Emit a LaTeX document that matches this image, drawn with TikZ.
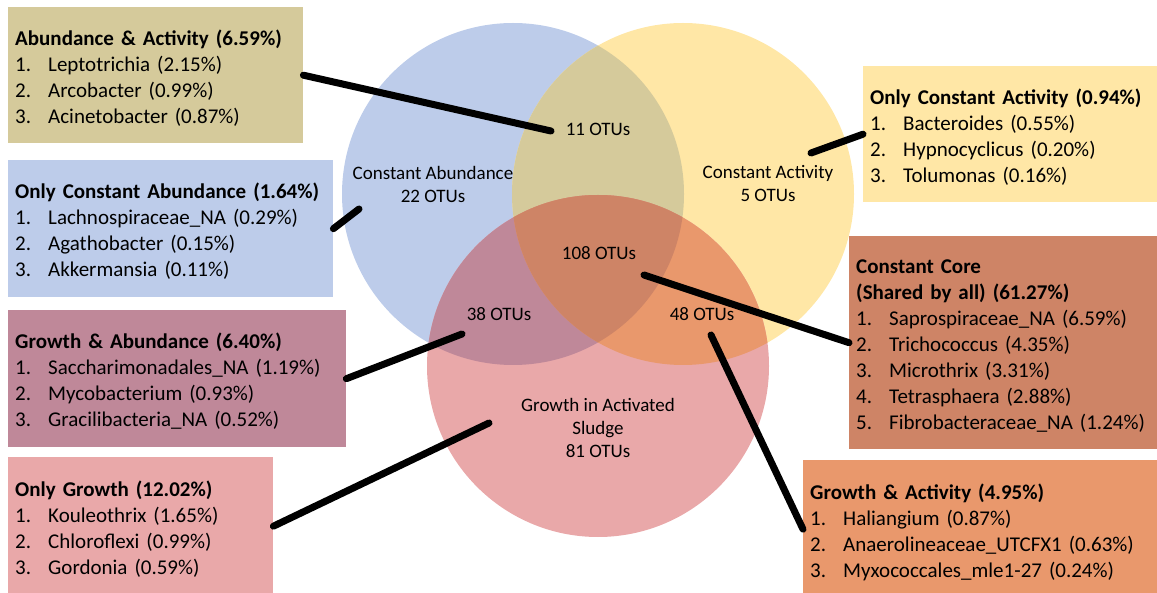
\documentclass[tikz,border=0pt]{standalone}
\usepackage{fontspec}
\setmainfont{Carlito}

\definecolor{cblue}{HTML}{BDCCEA}
\definecolor{cyellow}{HTML}{FFE7A6}
\definecolor{cred}{HTML}{E9A8A9}
\definecolor{cby}{HTML}{D5CA9B}
\definecolor{cbr}{HTML}{BF8899}
\definecolor{cyr}{HTML}{E9986C}
\definecolor{call}{HTML}{CE8466}

\newcommand{\itm}[2]{\makebox[33pt][l]{#1}#2}

\begin{document}
\begin{tikzpicture}[x=1pt,y=-1pt,
    box/.style={anchor=north west,inner xsep=7pt,inner ysep=0pt,align=left,font=\fontsize{21}{26}\selectfont,
      execute at begin node=\rule{0pt}{21pt}},
    venn/.style={align=center,font=\fontsize{19}{23}\selectfont},
    link/.style={line width=7pt,line cap=round}]

    \useasboundingbox (0,0) rectangle (1157,593);

    % the three sets
    \coordinate (cA) at (513,194);
    \coordinate (cC) at (683,194);
    \coordinate (cG) at (598,366);

    \fill[cblue] (cA) circle (171pt);
    \fill[cyellow] (cC) circle (171pt);
    \fill[cred] (cG) circle (171pt);

    \begin{scope}
      \clip (cA) circle (171pt);
      \fill[cby] (cC) circle (171pt);
    \end{scope}
    \begin{scope}
      \clip (cA) circle (171pt);
      \fill[cbr] (cG) circle (171pt);
    \end{scope}
    \begin{scope}
      \clip (cC) circle (171pt);
      \fill[cyr] (cG) circle (171pt);
    \end{scope}
    \begin{scope}
      \clip (cA) circle (171pt);
      \clip (cC) circle (171pt);
      \fill[call] (cG) circle (171pt);
    \end{scope}

    \node[venn] (nabund) at (433,184) {Constant Abundance\\22 OTUs};
    \node[venn] (nact) at (768,184) {Constant Activity\\5 OTUs};
    \node[venn] (ngrowth) at (598,428) {Growth in Activated\\Sludge\\81 OTUs};
    \node[venn] (n11) at (598,129) {11 OTUs};
    \node[venn] (n108) at (599,253) {108 OTUs};
    \node[venn] (n38) at (499,314) {38 OTUs};
    \node[venn] (n48) at (702,314) {48 OTUs};

    % left boxes
    \node[box,fill=cby,text width=281pt,minimum height=136pt] (aabox) at (8,7)
      {\textbf{Abundance \& Activity (6.59\%)}\\
       \itm{1.}{Leptotrichia (2.15\%)}\\
       \itm{2.}{Arcobacter (0.99\%)}\\
       \itm{3.}{Acinetobacter (0.87\%)}};
    \node[box,fill=cblue,text width=311pt,minimum height=137pt] (ocabbox) at (8,160)
      {\textbf{Only Constant Abundance (1.64\%)}\\
       \itm{1.}{Lachnospiraceae\_NA (0.29\%)}\\
       \itm{2.}{Agathobacter (0.15\%)}\\
       \itm{3.}{Akkermansia (0.11\%)}};
    \node[box,fill=cbr,text width=324pt,minimum height=137pt] (gabox) at (8,310)
      {\textbf{Growth \& Abundance (6.40\%)}\\
       \itm{1.}{Saccharimonadales\_NA (1.19\%)}\\
       \itm{2.}{Mycobacterium (0.93\%)}\\
       \itm{3.}{Gracilibacteria\_NA (0.52\%)}};
    \node[box,fill=cred,text width=251pt,minimum height=138pt] (ogbox) at (8,457)
      {\textbf{Only Growth (12.02\%)}\\
       \itm{1.}{Kouleothrix (1.65\%)}\\
       \itm{2.}{Chloroflexi (0.99\%)}\\
       \itm{3.}{Gordonia (0.59\%)}};

    % right boxes
    \node[box,fill=cyellow,text width=280pt,minimum height=136pt] (ocacbox) at (863,66)
      {\textbf{Only Constant Activity (0.94\%)}\\
       \itm{1.}{Bacteroides (0.55\%)}\\
       \itm{2.}{Hypnocyclicus (0.20\%)}\\
       \itm{3.}{Tolumonas (0.16\%)}};
    \node[box,fill=call,text width=294pt,minimum height=213pt] (corebox) at (849,236)
      {\textbf{Constant Core}\\
       \textbf{(Shared by all) (61.27\%)}\\
       \itm{1.}{Saprospiraceae\_NA (6.59\%)}\\
       \itm{2.}{Trichococcus (4.35\%)}\\
       \itm{3.}{Microthrix (3.31\%)}\\
       \itm{4.}{Tetrasphaera (2.88\%)}\\
       \itm{5.}{Fibrobacteraceae\_NA (1.24\%)}};
    \node[box,fill=cyr,text width=340pt,minimum height=138pt] (gactbox) at (803,460)
      {\textbf{Growth \& Activity (4.95\%)}\\
       \itm{1.}{Haliangium (0.87\%)}\\
       \itm{2.}{Anaerolineaceae\_UTCFX1 (0.63\%)}\\
       \itm{3.}{Myxococcales\_mle1-27 (0.24\%)}};

    % pointers
    \coordinate (e11) at (551,131);
    \coordinate (eabund) at (359,209);
    \coordinate (e38) at (462,334);
    \coordinate (egrowth) at (489,423);
    \coordinate (eact) at (811,153);
    \coordinate (e108) at (644,275);
    \coordinate (e48) at (711,335);

    \draw[link] (aabox.east) -- (e11);
    \draw[link] (ocabbox.east) -- (eabund);
    \draw[link] (gabox.east) -- (e38);
    \draw[link] (ogbox.east) -- (egrowth);
    \draw[link] (ocacbox.west) -- (eact);
    \draw[link] (e108) -- (corebox.west);
    \draw[link] (e48) -- (gactbox.west);

\end{tikzpicture}
\end{document}
